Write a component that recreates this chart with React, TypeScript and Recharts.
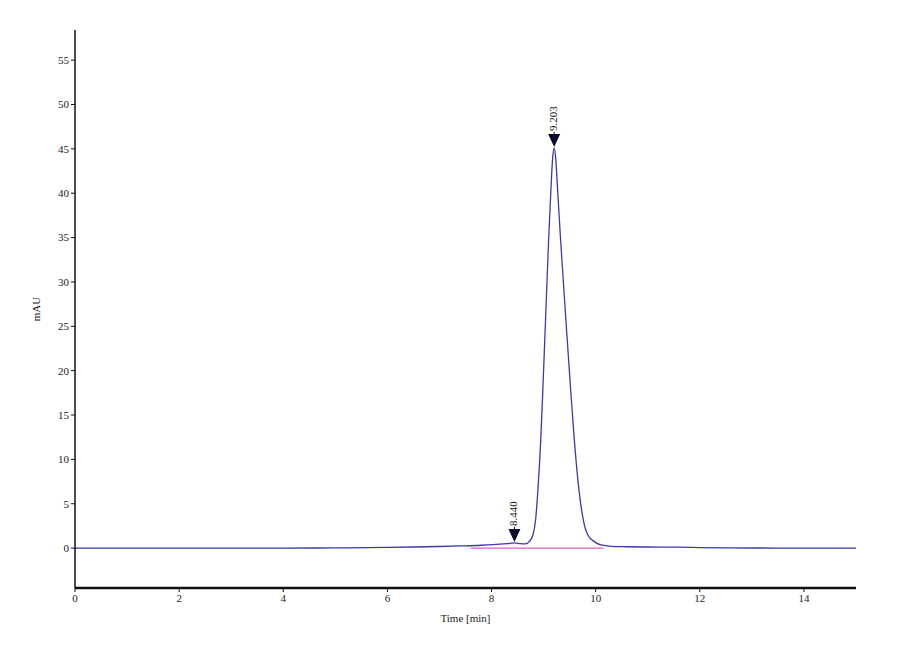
import React from 'react';
import { LineChart, Line, XAxis, YAxis, ReferenceDot } from 'recharts';

const times = [0, 2, 4, 5, 6, 6.5, 7.0, 7.4, 7.8, 8.1, 8.3, 8.44, 8.55, 8.65, 8.72, 8.795, 8.846, 8.89, 8.945, 8.985, 9.022, 9.059, 9.096, 9.14, 9.173, 9.203, 9.233, 9.27, 9.327, 9.39, 9.455, 9.52, 9.59, 9.68, 9.763, 9.85, 9.98, 10.1, 10.3, 10.6, 11, 11.5, 12, 12.5, 13, 14, 15];
const signal = [0, 0, 0, 0.02, 0.08, 0.12, 0.18, 0.24, 0.32, 0.42, 0.5, 0.58, 0.5, 0.47, 0.7, 1.47, 3.16, 6.5, 12.2, 17.8, 23.4, 29.1, 34.7, 40.3, 43.9, 45.1, 43.9, 40.3, 34.7, 29.1, 23.4, 17.8, 12.2, 6.5, 3.16, 1.47, 0.7, 0.35, 0.2, 0.15, 0.12, 0.1, 0.06, 0.03, 0.01, 0, 0];
const baselineTimes = [7.6, 10.15];
const baselineValues = [0, 0];
const peakTimes = [8.44, 9.203];
const peakHeights = [0.58, 45.1];
const peakLabels = ['8.440', '9.203'];
const xTicks = [0, 2, 4, 6, 8, 10, 12, 14];
const yTicks = [0, 5, 10, 15, 20, 25, 30, 35, 40, 45, 50, 55];

const data = times.map((t, i) => ({ t, v: signal[i] }));
const baseData = baselineTimes.map((t, i) => ({ t, b: baselineValues[i] }));

const FONT = 'Liberation Serif, Times New Roman, serif';

const makeMarker = (label: string) => (props: any) => {
  const { cx, cy } = props;
  return (
    <g>
      <line x1={cx} y1={cy - 16} x2={cx} y2={cy - 13} stroke="#000" strokeWidth={1} />
      <polygon points={`${cx - 6},${cy - 14} ${cx + 6},${cy - 14} ${cx},${cy - 1}`} fill="#0a0a2a" />
      <text
        x={cx + 3}
        y={cy - 17}
        transform={`rotate(-90 ${cx + 3} ${cy - 17})`}
        fontFamily={FONT}
        fontSize={11}
        fill="#111"
        textAnchor="start"
      >
        {label}
      </text>
    </g>
  );
};

export default function App() {
  return (
    <div style={{ position: 'absolute', left: 0, top: 0, width: 900, height: 660, background: '#fff' }}>
      <LineChart width={900} height={660} data={data} margin={{ top: 30, right: 44, bottom: 0, left: 0 }}>
        <XAxis
          dataKey="t"
          type="number"
          domain={[0, 15]}
          ticks={xTicks}
          allowDataOverflow
          height={72}
          axisLine={{ stroke: '#111', strokeWidth: 2.5 }}
          tickLine={{ stroke: '#111' }}
          tickSize={4}
          tick={{ fontFamily: FONT, fontSize: 11, fill: '#222' }}
          label={{ value: 'Time [min]', position: 'insideBottom', offset: 38, style: { fontFamily: FONT, fontSize: 11, fill: '#222' } }}
        />
        <YAxis
          type="number"
          domain={[-4.5, 58.4]}
          ticks={yTicks}
          allowDataOverflow
          width={75}
          axisLine={{ stroke: '#111', strokeWidth: 1.5 }}
          tickLine={{ stroke: '#111' }}
          tickSize={4}
          tick={{ fontFamily: FONT, fontSize: 11, fill: '#222' }}
          label={{ value: 'mAU', angle: -90, position: 'insideLeft', offset: 36, style: { fontFamily: FONT, fontSize: 11, fill: '#222', textAnchor: 'middle' } }}
        />
        <Line data={baseData} dataKey="b" type="linear" stroke="#e55bc8" strokeWidth={1.2} dot={false} isAnimationActive={false} />
        <Line dataKey="v" type="monotone" stroke="#3d3aa8" strokeWidth={1.3} dot={false} isAnimationActive={false} />
        {peakTimes.map((t, i) => (
          <ReferenceDot key={i} x={t} y={peakHeights[i]} r={0} shape={makeMarker(peakLabels[i])} />
        ))}
      </LineChart>
    </div>
  );
}
